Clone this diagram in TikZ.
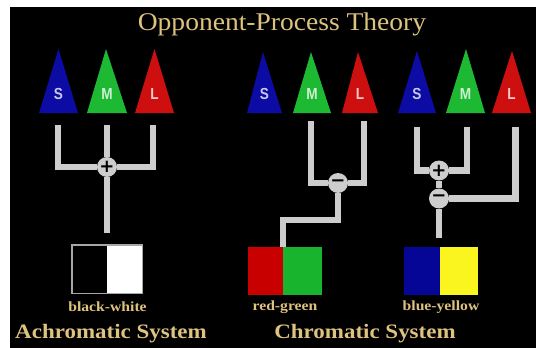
\documentclass[tikz,border=0pt]{standalone}
\usepackage{fontspec}
\setmainfont{Liberation Serif}
\newfontfamily\titlefont[FakeStretch=1.08]{Liberation Serif}
\newfontfamily\lblfont[FakeStretch=1.12]{Liberation Serif}
\newfontfamily\conefont[FakeStretch=0.85]{Liberation Sans}
\newfontfamily\symfont{DejaVu Sans}
\definecolor{gold}{RGB}{222,194,128}
\definecolor{wiregray}{RGB}{205,205,205}
\definecolor{coneblue}{RGB}{12,12,165}
\definecolor{conegreen}{RGB}{30,185,50}
\definecolor{conered}{RGB}{205,15,15}
\definecolor{boxred}{RGB}{200,0,0}
\definecolor{boxgreen}{RGB}{25,180,45}
\definecolor{boxblue}{RGB}{5,5,150}
\definecolor{boxyellow}{RGB}{250,245,30}
\pgfdeclarelayer{bg}
\pgfdeclarelayer{wires}
\pgfsetlayers{bg,wires,main}
\newcommand\conetri[7]{%
  \fill[#6] (#2,113) -- (#3,#5) -- (#4,113) -- cycle;
  \node[conelbl,text=white!78!#6] (#1) at ({(#2+#4)/2},94) {#7};}
\begin{document}
\begin{tikzpicture}[x=1pt,y=-1pt,
  wire/.style={line width=6.5pt,draw=wiregray,line join=miter},
  opnode/.style={circle,fill=wiregray,minimum size=20pt,inner sep=0pt,
    font=\symfont\bfseries\fontsize{18}{18}\selectfont,text=black},
  conelbl/.style={font=\conefont\bfseries\fontsize{16}{16}\selectfont,inner sep=0pt},
  half/.style={minimum width=35pt,minimum height=48pt,inner sep=0pt},
  smalllbl/.style={text=gold,font=\lblfont\bfseries\fontsize{14}{14}\selectfont,inner sep=0pt},
  syslbl/.style={text=gold,font=\lblfont\bfseries\fontsize{20.5}{20.5}\selectfont,inner sep=0pt},
  titlelbl/.style={text=gold,font=\titlefont\fontsize{25.5}{25.5}\selectfont,inner sep=0pt}]
\useasboundingbox (0,0) rectangle (536,348);
\begin{pgfonlayer}{bg}
\fill[white] (0,0) rectangle (536,348);
\fill[black] (10,7) rectangle (536,348);
\end{pgfonlayer}

\node[titlelbl] (title) at (282,24) {Opponent-Process Theory};

% cones
\conetri{s1}{39}{58.5}{78}{49}{coneblue}{S}
\conetri{m1}{87}{106}{127}{49}{conegreen}{M}
\conetri{l1}{135}{154.5}{174}{49}{conered}{L}
\conetri{s2}{247}{263}{282}{52}{coneblue}{S}
\conetri{m2}{293}{311}{331}{52}{conegreen}{M}
\conetri{l2}{342}{358}{378}{52}{conered}{L}
\conetri{s3}{398}{417}{436}{51}{coneblue}{S}
\conetri{m3}{446}{466}{485}{49}{conegreen}{M}
\conetri{l3}{492}{512}{531}{51}{conered}{L}

% wire end points
\coordinate (a1s) at (58,125);
\coordinate (a1m) at (107,125);
\coordinate (a1l) at (153,125);
\coordinate (a1e) at (107,233);
\coordinate (a2m) at (311,121);
\coordinate (a2l) at (364,121);
\coordinate (a2k) at (338,220);
\coordinate (a3s) at (417,127);
\coordinate (a3m) at (467,127);
\coordinate (a3l) at (515.5,127);
\coordinate (a3e) at (439,238);

% opponent nodes
\node[opnode] (p1) at (107,167) {+};
\node[opnode] (n2) at (338,183) {−};
\node[opnode] (p3) at (439,170.5) {+};
\node[opnode] (n3) at (439,198.5) {−};

% colour boxes
\node[half,fill=black,anchor=north west] (bwk) at (72,245) {};
\node[half,fill=white,anchor=north west] (bww) at (107,245) {};
\draw[gray!70,line width=1.5pt] (bwk.north west) rectangle (bww.south east);
\node[half,fill=boxred,anchor=north west] (rgr) at (248,247) {};
\node[half,fill=boxgreen,anchor=north west,minimum width=39pt] (rgg) at (283,247) {};
\node[half,fill=boxblue,anchor=north west,minimum width=36pt] (byb) at (404,247) {};
\node[half,fill=boxyellow,anchor=north west,minimum width=38pt] (byy) at (440,247) {};

% wires
\begin{pgfonlayer}{wires}
\draw[wire] (a1s) |- (p1);
\draw[wire] (a1l) |- (p1);
\draw[wire] (a1m) -- (p1) -- (a1e);
\draw[wire] (a2m) |- (n2);
\draw[wire] (a2l) |- (n2);
\draw[wire] (n2) -- (a2k) -| (rgg.north west);
\draw[wire] (a3s) |- (p3);
\draw[wire] (a3m) |- (p3);
\draw[wire] (p3) -- (n3) -- (a3e);
\draw[wire] (a3l) |- (n3);
\end{pgfonlayer}

% labels
\node[smalllbl] (lbw) at (107.5,307) {black-white};
\node[smalllbl] (lrg) at (285,307) {red-green};
\node[smalllbl] (lby) at (441,307) {blue-yellow};
\node[syslbl] (ach) at (111,334) {Achromatic System};
\node[syslbl] (chr) at (365,334) {Chromatic System};
\end{tikzpicture}
\end{document}
